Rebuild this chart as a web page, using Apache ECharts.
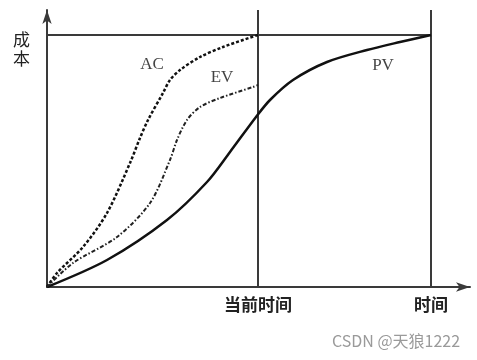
<!DOCTYPE html>
<html><head><meta charset="utf-8">
<script src="https://cdn.jsdelivr.net/npm/echarts@6/dist/echarts.min.js"></script>
<style>html,body{margin:0;padding:0;background:#fff}#c{width:477px;height:360px}</style>
</head><body><div id="c"></div>
<script>
// data (time units along x, cost units along y)
const pvData = [[0,0],[60,27],[120,67],[160,105],[183,135],[209,170],[223,187],[246,207],[280,225],[320,237],[353,245],[384,252]];
const acData = [[0,0],[10,14],[36,40],[60,74],[83,124],[93,149],[101,167],[116,194],[123,207],[133,217],[153,230],[176,240],[211,252]];
const evData = [[0,0],[26,24],[70,50],[103,84],[123,127],[130,147],[140,167],[153,180],[173,189],[206,200],[211,202]];
const currentTime = 211;
const endTime = 384;
const budget = 252;
const xTickValues = [211, 384];
const xTickLabels = ['当前时间', '时间'];
const seriesLabels = [
  {name:'AC', pos:[105,222]},
  {name:'EV', pos:[175,209]},
  {name:'PV', pos:[336,221]}
];
const yName = '成本';
const watermark = 'CSDN @天狼1222';

const chart = echarts.init(document.getElementById('c'));
const lineCol = '#3a3a3a';
chart.setOption({
  animation:false,
  grid:{left:47,right:7,top:10,bottom:73},
  xAxis:{type:'value',min:0,max:423,
    axisLine:{show:true,symbol:['none','arrow'],symbolSize:[7,14],lineStyle:{color:lineCol,width:2}},
    axisTick:{show:false},splitLine:{show:false},
    axisLabel:{customValues:xTickValues,formatter:v=>xTickLabels[xTickValues.indexOf(v)],
      color:'#222',fontSize:17,fontWeight:'bold',fontFamily:'Noto Sans CJK SC',margin:9}},
  yAxis:{type:'value',min:0,max:277,
    axisLine:{show:true,symbol:['none','arrow'],symbolSize:[7,14],lineStyle:{color:lineCol,width:2}},
    axisTick:{show:false},splitLine:{show:false},axisLabel:{show:false}},
  graphic:[
    {type:'text',left:13,top:30,style:{text:yName.split('').join('\n'),fontSize:17,lineHeight:19,fill:'#222',fontFamily:'Noto Sans CJK SC'}},
    {type:'text',left:332,top:333,style:{text:watermark,fontSize:16,fill:'#9a9a9a',fontFamily:'Noto Sans CJK SC'}}
  ],
  series:[
    {type:'line',data:[[0,budget],[endTime,budget]],symbol:'none',lineStyle:{color:lineCol,width:2},z:1},
    {type:'line',data:[[currentTime,0],[currentTime,277]],symbol:'none',lineStyle:{color:lineCol,width:2},z:1},
    {type:'line',data:[[endTime,0],[endTime,277]],symbol:'none',lineStyle:{color:lineCol,width:2},z:1},
    {name:'PV',type:'line',data:pvData,smooth:0.3,symbol:'none',lineStyle:{color:'#111',width:2.5}},
    {name:'AC',type:'line',data:acData,smooth:0.3,symbol:'none',lineStyle:{color:'#111',width:2.5,type:[3,2]}},
    {name:'EV',type:'line',data:evData,smooth:0.3,symbol:'none',lineStyle:{color:'#222',width:2,type:[4,2,1.5,2]}},
    {type:'scatter',data:seriesLabels.map(d=>({value:d.pos,label:{formatter:d.name}})),symbolSize:0,
      label:{show:true,position:'inside',color:'#111',fontSize:17,fontFamily:'Liberation Serif'}}
  ]
});
</script></body></html>
